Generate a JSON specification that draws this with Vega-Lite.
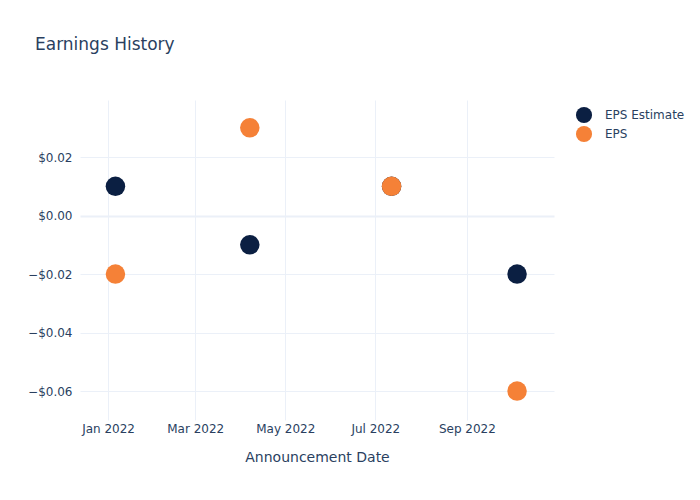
{
  "$schema": "https://vega.github.io/schema/vega-lite/v6.json",
  "autosize": "none",
  "width": 474,
  "height": 320,
  "padding": {"left": 80, "top": 100, "right": 146, "bottom": 80},
  "background": "white",
  "title": {
    "text": "Earnings History",
    "anchor": "start",
    "frame": "group",
    "dx": -45,
    "offset": 46,
    "fontSize": 17,
    "fontWeight": "normal",
    "font": "DejaVu Sans",
    "color": "#2a3f5f"
  },
  "config": {
    "view": {"stroke": null},
    "font": "DejaVu Sans"
  },
  "data": {
    "values": [
      {"date": "2022-01-06", "series": "EPS Estimate", "value": 0.01},
      {"date": "2022-04-07", "series": "EPS Estimate", "value": -0.01},
      {"date": "2022-07-12", "series": "EPS Estimate", "value": 0.01},
      {"date": "2022-10-05", "series": "EPS Estimate", "value": -0.02},
      {"date": "2022-01-06", "series": "EPS", "value": -0.02},
      {"date": "2022-04-07", "series": "EPS", "value": 0.03},
      {"date": "2022-07-12", "series": "EPS", "value": 0.01},
      {"date": "2022-10-05", "series": "EPS", "value": -0.06}
    ]
  },
  "mark": {"type": "circle", "opacity": 1, "size": 380},
  "encoding": {
    "x": {
      "field": "date",
      "type": "temporal",
      "scale": {
        "type": "utc",
        "domain": [
          {"year": 2021, "month": 12, "date": 13, "utc": true},
          {"year": 2022, "month": 10, "date": 30, "utc": true}
        ]
      },
      "axis": {
        "title": "Announcement Date",
        "values": [
          {"year": 2022, "month": 1, "date": 1, "utc": true},
          {"year": 2022, "month": 3, "date": 1, "utc": true},
          {"year": 2022, "month": 5, "date": 1, "utc": true},
          {"year": 2022, "month": 7, "date": 1, "utc": true},
          {"year": 2022, "month": 9, "date": 1, "utc": true}
        ],
        "labelExpr": "utcFormat(datum.value, '%b %Y')",
        "domain": false,
        "ticks": false,
        "grid": true,
        "gridColor": "#ebf0f8",
        "gridWidth": 1,
        "labelColor": "#2a3f5f",
        "labelFontSize": 12,
        "labelPadding": 3,
        "titleColor": "#2a3f5f",
        "titleFontSize": 14,
        "titleFontWeight": "normal",
        "titlePadding": 16
      }
    },
    "y": {
      "field": "value",
      "type": "quantitative",
      "scale": {"domain": [-0.0699, 0.0395], "nice": false, "zero": false},
      "axis": {
        "title": null,
        "values": [-0.06, -0.04, -0.02, 0, 0.02],
        "labelExpr": "datum.value < -0.0001 ? '\u2212$' + format(-datum.value, '.2f') : '$' + format(abs(datum.value), '.2f')",
        "domain": false,
        "ticks": false,
        "grid": true,
        "gridColor": "#ebf0f8",
        "gridWidth": {"condition": {"test": "abs(datum.value) < 0.0001", "value": 2}, "value": 1},
        "labelColor": "#2a3f5f",
        "labelFontSize": 12,
        "labelPadding": 8
      }
    },
    "color": {
      "field": "series",
      "type": "nominal",
      "sort": ["EPS Estimate", "EPS"],
      "scale": {"domain": ["EPS Estimate", "EPS"], "range": ["#0b1f42", "#f58137"]},
      "legend": {
        "title": null,
        "orient": "none",
        "legendX": 495,
        "legendY": 6,
        "symbolType": "circle",
        "symbolSize": 260,
        "symbolOpacity": 1,
        "labelFontSize": 12,
        "labelColor": "#2a3f5f",
        "rowPadding": 1,
        "labelOffset": 12
      }
    }
  }
}
